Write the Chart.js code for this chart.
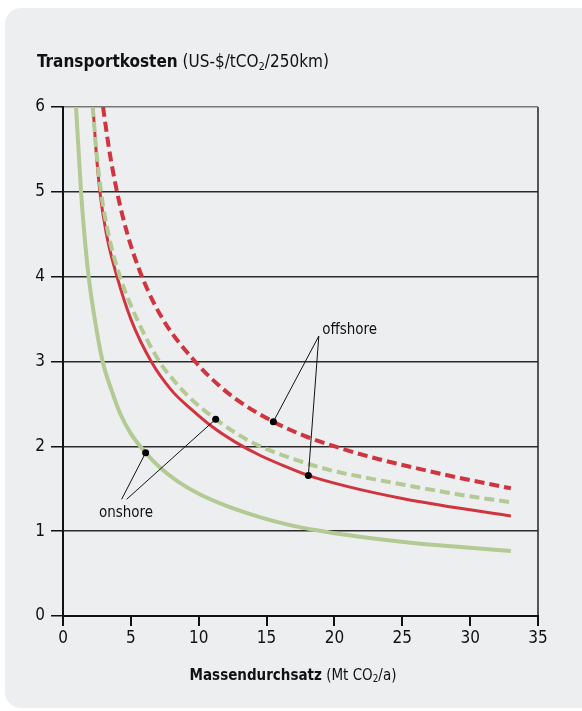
<!DOCTYPE html>
<html>
<head>
<meta charset="utf-8">
<script src="https://cdn.jsdelivr.net/npm/chart.js@4/dist/chart.umd.min.js"></script>
<style>
  html, body { margin: 0; padding: 0; background: #fff; overflow: hidden; }
  #wrap { position: relative; width: 582px; height: 711px; overflow: hidden; }
  #panel { position: absolute; left: 5px; top: 8px; width: 700px; height: 700px; background: #edeef0; border-radius: 16px 0 0 16px; }
  #myChart { position: absolute; left: 0; top: 0; }
  .ttl { position: absolute; font-family: 'Liberation Sans Narrow', 'DejaVu Sans Condensed', sans-serif; color: #111; white-space: nowrap; }
  .ttl sub { font-size: 65%; vertical-align: -0.25em; line-height: 0; }
  #ytitle { left: 37px; top: 51px; font-size: 17px; }
  #xtitle { left: 293px; top: 666px; font-size: 15px; transform: translateX(-50%); }
</style>
</head>
<body>
<div id="wrap">
  <div id="panel"></div>
  <canvas id="myChart" width="582" height="711"></canvas>
  <div class="ttl" id="ytitle"><b>Transportkosten</b> (US-$/tCO<sub>2</sub>/250km)</div>
  <div class="ttl" id="xtitle"><b>Massendurchsatz</b> (Mt CO<sub>2</sub>/a)</div>
</div>
<script>
// values (Mt CO2/a -> US-$/tCO2/250km)
const onshoreSolidX = [0.96, 1.33, 1.57, 1.89, 2.31, 2.92, 3.6, 4.2, 5.0, 6.09, 7.15, 8.5, 10.0, 12.0, 14.5, 16.5, 18.7, 22, 25.8, 29.5, 33];
const onshoreSolidY = [6, 5, 4.51, 4, 3.53, 3, 2.65, 2.39, 2.15, 1.925, 1.75, 1.58, 1.44, 1.3, 1.165, 1.08, 1.01, 0.93, 0.86, 0.81, 0.766];

const onshoreDashX = [2.19, 2.45, 2.8, 3.35, 4.2, 5.45, 7.1, 8.2, 9.36, 11.25, 12.8, 14.4, 16.8, 19.67, 22.5, 25.7, 29.25, 33];
const onshoreDashY = [6, 5.5, 5, 4.5, 4, 3.5, 3, 2.77, 2.57, 2.32, 2.15, 2.01, 1.86, 1.72, 1.625, 1.53, 1.43, 1.34];

const offshoreSolidX = [2.21, 2.43, 2.72, 3.2, 3.98, 5.0, 6.5, 8, 9.36, 11, 12.7, 14.5, 16.5, 18.1, 21, 25, 29, 33];
const offshoreSolidY = [6, 5.5, 5, 4.5, 4, 3.5, 3.0, 2.66, 2.45, 2.23, 2.05, 1.895, 1.755, 1.655, 1.525, 1.385, 1.275, 1.18];

const offshoreDashX = [2.95, 3.4, 3.98, 4.75, 5.82, 7.35, 9.73, 11.2, 12.8, 15.5, 17.7, 20.2, 23, 25.7, 29, 33];
const offshoreDashY = [6, 5.5, 5, 4.5, 4, 3.5, 3, 2.76, 2.55, 2.29, 2.13, 1.99, 1.86, 1.755, 1.635, 1.505];

// marked points on the curves
const dotX = [6.09, 11.25, 15.5, 18.08];
const dotY = [1.925, 2.32, 2.29, 1.655];

const xTicks = [0, 5, 10, 15, 20, 25, 30, 35];
const yTicks = [0, 1, 2, 3, 4, 5, 6];

// callouts: text, where the text sits, where the leader lines start (data units)
const noteText = ['offshore', 'onshore'];
const noteAt = [[19.1, 3.37], [2.65, 1.21]];
const leaderStart = [[18.85, 3.3], [18.85, 3.3], [4.32, 1.376], [4.69, 1.376]];
const leaderDot = [2, 3, 0, 1];

const FONT = "'Liberation Sans Narrow', 'DejaVu Sans Condensed', sans-serif";
const GREEN = '#b3ca95';
const RED = '#d0343e';

function pts(xs, ys) {
    return xs.map((x, i) => ({ x: x, y: ys[i] }));
}

const callouts = {
    id: 'callouts',
    afterDatasetsDraw(chart) {
        const ctx = chart.ctx;
        const sx = chart.scales.x, sy = chart.scales.y;
        ctx.save();
        ctx.strokeStyle = '#111';
        ctx.lineWidth = 1;
        leaderStart.forEach((p, i) => {
            const d = leaderDot[i];
            ctx.beginPath();
            ctx.moveTo(sx.getPixelForValue(p[0]), sy.getPixelForValue(p[1]));
            ctx.lineTo(sx.getPixelForValue(dotX[d]), sy.getPixelForValue(dotY[d]));
            ctx.stroke();
        });
        ctx.fillStyle = '#111';
        ctx.font = '15px ' + FONT;
        ctx.textBaseline = 'middle';
        ctx.textAlign = 'left';
        noteText.forEach((t, i) => {
            ctx.fillText(t, sx.getPixelForValue(noteAt[i][0]), sy.getPixelForValue(noteAt[i][1]));
        });
        ctx.restore();
    }
};

const ctx = document.getElementById('myChart').getContext('2d');

const myChart = new Chart(ctx, {
    type: 'scatter',
    data: {
        datasets: [
            {
                label: 'Punkte',
                data: pts(dotX, dotY),
                showLine: false,
                pointRadius: 3.5,
                pointBackgroundColor: '#000',
                pointBorderWidth: 0
            },
            {
                label: 'onshore (gestrichelt)',
                data: pts(onshoreDashX, onshoreDashY),
                showLine: true,
                borderColor: GREEN,
                borderWidth: 4,
                borderDash: [10, 5],
                pointRadius: 0
            },
            {
                label: 'offshore',
                data: pts(offshoreSolidX, offshoreSolidY),
                showLine: true,
                borderColor: RED,
                borderWidth: 3,
                pointRadius: 0
            },
            {
                label: 'offshore (gestrichelt)',
                data: pts(offshoreDashX, offshoreDashY),
                showLine: true,
                borderColor: RED,
                borderWidth: 4,
                borderDash: [10, 5],
                pointRadius: 0
            },
            {
                label: 'onshore',
                data: pts(onshoreSolidX, onshoreSolidY),
                showLine: true,
                borderColor: GREEN,
                borderWidth: 4,
                pointRadius: 0
            }
        ]
    },
    options: {
        responsive: false,
        animation: false,
        layout: {
            padding: { left: 0, right: 44, top: 107, bottom: 0 }
        },
        elements: {
            line: {
                tension: 0.4,
                cubicInterpolationMode: 'monotone'
            }
        },
        scales: {
            x: {
                type: 'linear',
                min: 0,
                max: 35,
                afterBuildTicks: s => { s.ticks = xTicks.map(v => ({ value: v })); },
                afterFit: s => { s.height = 95; },
                ticks: {
                    font: { family: FONT, size: 17 },
                    color: '#111',
                    padding: 2
                },
                grid: {
                    color: c => (c.tick && c.tick.value === 35) ? '#555' : 'rgba(0,0,0,0)',
                    lineWidth: 2,
                    tickColor: '#111',
                    tickLength: 10
                },
                border: { color: '#111', width: 2 }
            },
            y: {
                min: 0,
                max: 6,
                afterBuildTicks: s => { s.ticks = yTicks.map(v => ({ value: v })); },
                afterFit: s => { s.width = 63; },
                ticks: {
                    font: { family: FONT, size: 17 },
                    color: '#111',
                    padding: 6
                },
                grid: {
                    color: c => (c.tick && c.tick.value === 6) ? '#777' : '#2a2a2a',
                    lineWidth: 1.5,
                    tickColor: '#111',
                    tickLength: 12
                },
                border: { color: '#111', width: 2 }
            }
        },
        plugins: {
            legend: { display: false },
            tooltip: { enabled: false }
        }
    },
    plugins: [callouts]
});
</script>
</body>
</html>
